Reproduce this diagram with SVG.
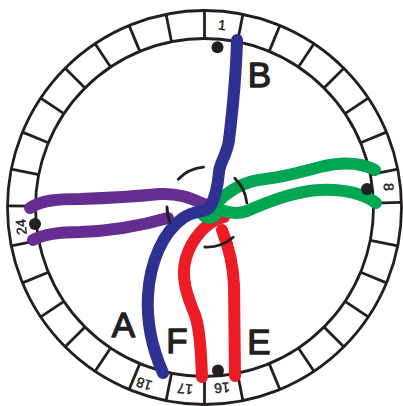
<svg xmlns="http://www.w3.org/2000/svg" xmlns:xlink="http://www.w3.org/1999/xlink" width="403" height="406" viewBox="0 0 403 406">
<style>
.ring{fill:none;stroke:#231f20;stroke-width:2.8}
.tick{stroke:#231f20;stroke-width:2.8}
.num{font-family:"Liberation Sans",Arial,sans-serif;font-size:14px;fill:#231f20;stroke:#231f20;stroke-width:0.4;text-anchor:middle;dominant-baseline:central}
.big{font-family:"Liberation Sans",Arial,sans-serif;font-size:35px;fill:#231f20;stroke:#231f20;stroke-width:1.3;stroke-linejoin:round;text-anchor:middle}
.w{fill:none;stroke-width:12;stroke-linecap:round;stroke-linejoin:round}
.arc{fill:none;stroke:#231f20;stroke-width:2.8;stroke-linecap:round}
.dot{fill:#231f20}
</style>
<defs>
<line id="t" class="tick" x1="204.5" y1="38.5" x2="204.5" y2="10.5"/>
</defs>
<rect width="403" height="406" fill="#fff"/>
<g id="dial">
<circle class="ring" cx="204.5" cy="207.5" r="197"/>
<circle class="ring" cx="204.5" cy="207.5" r="169"/>
<g id="ticks">
<use xlink:href="#t"/>
<use xlink:href="#t" transform="rotate(11.25 204.5 207.5)"/>
<use xlink:href="#t" transform="rotate(22.5 204.5 207.5)"/>
<use xlink:href="#t" transform="rotate(33.75 204.5 207.5)"/>
<use xlink:href="#t" transform="rotate(45 204.5 207.5)"/>
<use xlink:href="#t" transform="rotate(56.25 204.5 207.5)"/>
<use xlink:href="#t" transform="rotate(67.5 204.5 207.5)"/>
<use xlink:href="#t" transform="rotate(78.75 204.5 207.5)"/>
<use xlink:href="#t" transform="rotate(88.5 204.5 207.5)"/>
<use xlink:href="#t" transform="rotate(101.25 204.5 207.5)"/>
<use xlink:href="#t" transform="rotate(112.5 204.5 207.5)"/>
<use xlink:href="#t" transform="rotate(123.75 204.5 207.5)"/>
<use xlink:href="#t" transform="rotate(135 204.5 207.5)"/>
<use xlink:href="#t" transform="rotate(146.25 204.5 207.5)"/>
<use xlink:href="#t" transform="rotate(157.5 204.5 207.5)"/>
<use xlink:href="#t" transform="rotate(168.75 204.5 207.5)"/>
<use xlink:href="#t" transform="rotate(180 204.5 207.5)"/>
<use xlink:href="#t" transform="rotate(191.25 204.5 207.5)"/>
<use xlink:href="#t" transform="rotate(202.5 204.5 207.5)"/>
<use xlink:href="#t" transform="rotate(213.75 204.5 207.5)"/>
<use xlink:href="#t" transform="rotate(225 204.5 207.5)"/>
<use xlink:href="#t" transform="rotate(236.25 204.5 207.5)"/>
<use xlink:href="#t" transform="rotate(247.5 204.5 207.5)"/>
<use xlink:href="#t" transform="rotate(258.75 204.5 207.5)"/>
<use xlink:href="#t" transform="rotate(270.5 204.5 207.5)"/>
<use xlink:href="#t" transform="rotate(281.25 204.5 207.5)"/>
<use xlink:href="#t" transform="rotate(292.5 204.5 207.5)"/>
<use xlink:href="#t" transform="rotate(303.75 204.5 207.5)"/>
<use xlink:href="#t" transform="rotate(315 204.5 207.5)"/>
<use xlink:href="#t" transform="rotate(326.25 204.5 207.5)"/>
<use xlink:href="#t" transform="rotate(337.5 204.5 207.5)"/>
<use xlink:href="#t" transform="rotate(348.75 204.5 207.5)"/>
</g>
<text class="num" transform="translate(222,25) rotate(5.6)">1</text>
<text class="num" transform="translate(389,187) rotate(88)">8</text>
<text class="num" transform="translate(21,227) rotate(-95.6)">24</text>
<text class="num" transform="translate(222,388) rotate(174.4)">16</text>
<text class="num" transform="translate(185,389) rotate(185.6)">17</text>
<text class="num" transform="translate(144,384) rotate(196.9)">18</text>
</g>
<g id="connectors">
<path id="purple-upper" class="w" stroke="#662d91" d="M30,208 C 42,200 58,199 80,199 C 110,198 140,196 160,194 C 180,193 192,199 204,204"/>
<path id="purple-lower" class="w" stroke="#662d91" d="M33,240 C 44,234 60,232 80,232 C 110,231 140,226 168,218"/>
<path id="red-F" class="w" stroke="#ed1c24" d="M224,217 C 207,221 192,238 186,258 C 180,278 188,298 195,315 C 200,330 201,352 202,377"/>
<path id="red-E" class="w" stroke="#ed1c24" d="M222,230 C 228,245 233,262 234,285 L 235,376"/>
<path id="green-upper" class="w" stroke="#00a651" d="M375,170 C 360,162 340,162 320,167 C 300,172 285,177 265,179 C 245,181 228,190 214,206"/>
<path id="green-lower" class="w" stroke="#00a651" d="M376,203 C 362,193 345,189 320,190 C 295,191 265,203 247,211 C 236,215 226,212 216,208"/>
<path class="w" stroke="#00a651" stroke-width="4" d="M202,214 Q 208,220 215,216"/>
<path id="blue" class="w" stroke="#2e3192" d="M237,40 C 236,80 232,115 229,140 C 227,155 220,162 219,172 C 218,185 215,198 210,207 C 205,213 195,210 183,218 C 163,232 150,262 148,295 C 146,330 155,355 163,373"/>
<path class="arc" d="M178.2,179.2 A 40 40 0 0 1 203.5,167.2"/>
<path class="arc" d="M234.8,178.2 A 40 40 0 0 1 246.8,202.8"/>
<path class="arc" d="M170.5,223.3 A 40 40 0 0 1 167,207"/>
<path class="arc" d="M204.9,247 A 40 40 0 0 0 233.2,237.2"/>
</g>
<g id="pins">
<circle class="dot" cx="217.5" cy="47.3" r="6"/>
<circle class="dot" cx="367" cy="189" r="6"/>
<circle class="dot" cx="35" cy="224" r="6"/>
<circle class="dot" cx="218" cy="370.5" r="6"/>
</g>
<g id="labels">
<text class="big" x="259.5" y="87">B</text>
<text class="big" x="123.5" y="337">A</text>
<text class="big" x="177" y="353">F</text>
<text class="big" x="259" y="354">E</text>
</g>
</svg>
